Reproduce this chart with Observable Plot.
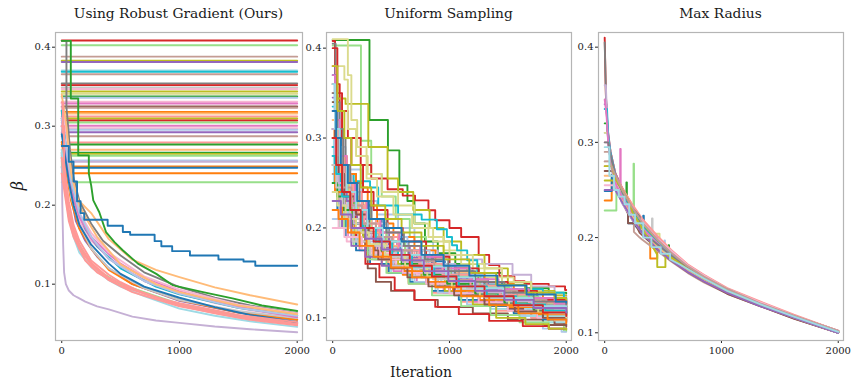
<!DOCTYPE html>
<html><head><meta charset="utf-8">
<script src="https://cdn.jsdelivr.net/npm/d3@7"></script>
<script src="https://cdn.jsdelivr.net/npm/@observablehq/plot@0.6"></script>
<style>
body{margin:0;background:#fff;}
#wrap{position:relative;width:852px;height:383px;font-family:"DejaVu Serif",serif;color:#1a1a1a;overflow:hidden;}
.panel{position:absolute;top:0;}
.panel text{font-family:"DejaVu Serif",serif !important;font-size:10px !important;fill:#222;}
.title{position:absolute;top:5px;font-size:13.8px;white-space:nowrap;transform:translateX(-50%);}
.xlab{position:absolute;top:364px;font-size:14px;transform:translateX(-50%);}
.ylab{position:absolute;left:13px;top:176px;font-size:16px;font-style:italic;transform:rotate(-90deg);}
</style></head><body><div id="wrap"></div>
<script>
// ---------- shared ----------
const tab20 = ["#1f77b4","#aec7e8","#ff7f0e","#ffbb78","#2ca02c","#98df8a","#d62728","#ff9896","#9467bd","#c5b0d5",
               "#8c564b","#c49c94","#e377c2","#f7b6d2","#7f7f7f","#c7c7c7","#bcbd22","#dbdb8d","#17becf","#9edae5"];
const panelTitles = ["Using Robust Gradient (Ours)", "Uniform Sampling", "Max Radius"];
const xLabel = "Iteration";
const yLabel = "β";
const iterTicks = [0, 1000, 2000];
const betaTicks = [0.1, 0.2, 0.3, 0.4];
const iterDomain = [-53, 2045];

// ---------- panel 1: robust gradient ----------
const robustFlatLevels = [0.4085,0.4025,0.388,0.3828,0.3812,0.3705,0.369,0.3658,0.354,0.352,0.349,0.347,0.344,0.341,0.3376,0.336,
  0.331,0.3287,0.325,0.3233,0.318,0.316,0.3123,0.3097,0.3072,0.3047,0.3005,0.2975,0.2954,0.2924,0.2873,0.2794,0.2768,0.2701,
  0.2663,0.265,0.2625,0.2566,0.255,0.249,0.2473,0.2405,0.2291];
const robustFlatColors = [6,5,11,16,8,19,18,11,14,6,15,13,16,17,4,1,13,12,10,11,2,3,7,16,6,5,12,13,1,8,11,7,4,3,4,16,5,1,9,2,0,2,5];

const robustCurveColors = [9,3,14,4,12,13,8,18,5,2,15,13,12,1,3,19,7,7,0,7,7];
const robustCurvePoints = [
  [0,.265, 5,.2, 12,.15, 20,.115, 35,.1, 60,.092, 100,.086, 130,.0835, 200,.078, 300,.072, 400,.068, 600,.059, 800,.054, 1000,.051, 1300,.0465, 1600,.043, 2000,.0392],
  [0,.31, 30,.28, 60,.25, 100,.22, 150,.205, 250,.19, 400,.157, 600,.131, 800,.118, 1000,.109, 1300,.096, 1600,.086, 2000,.0743],
  [0,.408, 40,.408, 40,.324, 50,.307, 70,.27, 100,.235, 150,.205, 250,.1765, 350,.155, 500,.1363, 700,.115, 1000,.0962, 1300,.083, 1600,.073, 2000,.0633],
  [0,.408, 77,.408, 77,.335, 140,.335, 140,.263, 230,.263, 230,.24, 250,.225, 268,.206, 319,.191, 376,.166, 450,.153, 518,.143, 647,.126, 803,.113, 946,.0984, 1200,.09, 1450,.082, 1700,.073, 2000,.066],
  [0,.32, 30,.28, 60,.24, 100,.21, 150,.185, 250,.16, 400,.138, 500,.126, 700,.108, 1000,.091, 1300,.078, 1600,.069, 2000,.0605],
  [0,.3, 30,.27, 60,.235, 100,.205, 150,.18, 250,.155, 400,.134, 600,.113, 1000,.088, 1300,.076, 1600,.067, 2000,.0582],
  [0,.3, 40,.25, 80,.21, 120,.18, 200,.155, 300,.135, 400,.12, 600,.1, 1000,.079, 1500,.064, 2000,.055],
  [0,.32, 40,.27, 80,.225, 120,.2, 200,.17, 300,.148, 500,.12, 800,.097, 1000,.087, 1500,.07, 2000,.06],
  [0,.26, 30,.22, 60,.19, 100,.165, 200,.135, 300,.118, 500,.1, 800,.085, 1000,.075, 1500,.06, 2000,.05],
  [0,.28, 40,.24, 80,.205, 150,.17, 250,.145, 400,.118, 600,.1, 1000,.08, 1500,.064, 2000,.055],
  [0,.3, 40,.25, 80,.21, 150,.175, 250,.145, 400,.12, 700,.095, 1000,.08, 1500,.066, 2000,.057],
  [0,.33, 40,.29, 80,.24, 150,.19, 250,.165, 400,.14, 700,.11, 1000,.093, 1500,.074, 2000,.063],
  [0,.31, 40,.26, 80,.22, 150,.185, 250,.158, 400,.132, 700,.104, 1000,.088, 1500,.071, 2000,.058],
  [0,.31, 40,.27, 80,.23, 150,.19, 250,.16, 400,.132, 700,.104, 1000,.088, 1500,.07, 2000,.06],
  [0,.34, 40,.3, 80,.24, 150,.2, 200,.185, 300,.16, 500,.125, 800,.1, 1000,.09, 1500,.073, 2000,.062],
  [0,.27, 30,.22, 60,.185, 100,.16, 150,.14, 250,.1215, 400,.105, 500,.097, 700,.085, 1000,.069, 1300,.06, 1600,.053, 2000,.046],
  [0,.33, 10,.33, 10,.28, 30,.24, 60,.205, 100,.175, 150,.155, 250,.13, 400,.112, 500,.1025, 700,.088, 1000,.073, 1300,.063, 1600,.055, 2000,.048],
  [0,.26, 30,.225, 60,.195, 100,.17, 150,.15, 250,.127, 400,.108, 600,.094, 1000,.074, 1500,.059, 2000,.05],
  [0,.29, 30,.26, 60,.23, 100,.2, 150,.175, 250,.15, 400,.126, 500,.113, 700,.097, 1000,.0828, 1300,.071, 1600,.061, 2000,.052],
  [0,.24, 30,.21, 60,.18, 100,.16, 200,.13, 300,.115, 500,.098, 800,.083, 1000,.076, 1500,.061, 2000,.052],
  [0,.3, 20,.3, 20,.25, 30,.215, 60,.185, 100,.165, 150,.145, 250,.125, 400,.105, 600,.09, 1000,.072, 1500,.058, 2000,.049]
];
const robustStepColors = [0];
const robustStepPoints = [
  [0,.275, 60,.255, 100,.23, 130,.205, 160,.19, 191,.1815, 390,.174, 519,.166, 581,.1625, 789,.1545, 846,.148, 938,.1418, 1089,.1363, 1331,.1313, 1544,.1287, 1644,.1233, 2000,.1233]
];

// ---------- panel 2: uniform sampling (step series) ----------
const uniformColors = [0,1,2,3,4,5,6,7,8,9,10,11,12,13,14,15,16,17,18,19,0,1,2,3,4,5,6,7,8,9,10,11,12,13,14,15,16,17,18,19,0,6,2,8,13,
  1,3,4,5,7,9,10,11,12,14,15,16,17,18,19,0,2,6,8];
const uniformPoints = [
  [0,.28, 20,.25, 60,.22, 150,.205, 260,.19, 380,.175, 520,.16, 700,.148, 900,.137, 1150,.125, 1400,.117, 1700,.108, 2000,.104],
  [0,.33, 30,.29, 110,.265, 250,.23, 380,.215, 560,.2, 700,.185, 860,.17, 1000,.155, 1200,.14, 1450,.128, 1700,.118, 1950,.11, 2000,.11],
  [0,.31, 15,.27, 50,.24, 120,.21, 190,.185, 290,.17, 420,.16, 600,.148, 800,.138, 1000,.128, 1300,.118, 1600,.11, 2000,.104],
  [0,.26, 40,.23, 100,.2, 200,.185, 320,.17, 480,.155, 650,.14, 850,.128, 1100,.118, 1400,.108, 1700,.1, 2000,.097],
  [0,.409, 315,.32, 473,.2863, 571,.2474, 640,.23, 700,.205, 790,.185, 900,.172, 1050,.16, 1250,.15, 1450,.14, 1650,.133, 1850,.128, 2000,.127],
  [0,.403, 242,.297, 330,.26, 420,.235, 540,.21, 660,.19, 800,.17, 950,.155, 1150,.14, 1350,.125, 1600,.11, 1800,.095, 1980,.085, 2000,.085],
  [0,.408, 20,.36, 60,.33, 130,.3, 240,.27, 330,.255, 470,.243, 600,.236, 705,.2307, 820,.2197, 878,.2086, 1000,.2, 1100,.19, 1250,.17, 1340,.1586, 1427,.1463, 1556,.1408, 1643,.1378, 1850,.135, 1990,.131, 2000,.131],
  [0,.3, 25,.26, 70,.23, 140,.2, 230,.18, 340,.165, 470,.15, 650,.138, 850,.128, 1100,.118, 1400,.108, 1700,.1, 2000,.095],
  [0,.38, 20,.33, 50,.3, 90,.26, 160,.21, 260,.19, 380,.178, 520,.165, 700,.155, 900,.145, 1100,.137, 1350,.127, 1600,.12, 1850,.113, 2000,.112],
  [0,.29, 30,.25, 90,.22, 200,.2, 330,.19, 500,.18, 700,.175, 900,.17, 1100,.165, 1280,.16, 1540,.148, 1700,.135, 1900,.125, 2000,.123],
  [0,.31, 20,.27, 60,.24, 130,.2, 220,.18, 300,.155, 370,.14, 500,.13, 700,.12, 900,.112, 1200,.105, 1500,.098, 1800,.092, 2000,.09],
  [0,.36, 30,.3, 80,.26, 160,.23, 260,.21, 400,.19, 560,.175, 720,.16, 900,.148, 1100,.135, 1350,.125, 1600,.115, 1850,.108, 2000,.105],
  [0,.27, 20,.24, 60,.215, 130,.19, 230,.175, 360,.165, 520,.152, 720,.14, 950,.128, 1200,.118, 1500,.11, 1800,.103, 2000,.1],
  [0,.23, 50,.2, 120,.185, 250,.175, 400,.165, 600,.155, 800,.145, 1050,.135, 1300,.125, 1550,.115, 1800,.107, 2000,.104],
  [0,.405, 25,.34, 60,.3, 110,.26, 200,.225, 330,.2, 480,.185, 650,.17, 850,.155, 1050,.142, 1300,.13, 1550,.12, 1800,.112, 2000,.11],
  [0,.32, 30,.28, 80,.24, 170,.21, 290,.19, 430,.175, 600,.16, 780,.15, 1000,.14, 1250,.13, 1500,.12, 1750,.113, 2000,.108],
  [0,.36, 40,.344, 110,.338, 305,.29, 470,.255, 560,.24, 690,.22, 830,.2, 950,.185, 1100,.17, 1300,.155, 1500,.14, 1700,.13, 1900,.125, 2000,.125],
  [0,.38, 100,.365, 130,.31, 200,.28, 300,.26, 420,.24, 560,.225, 700,.205, 820,.19, 950,.175, 1100,.16, 1300,.145, 1550,.13, 1800,.118, 2000,.115],
  [0,.335, 30,.3, 60,.26, 180,.252, 320,.245, 390,.225, 560,.215, 762,.2093, 892,.1985, 978,.19, 1022,.1808, 1065,.175, 1152,.1641, 1238,.1456, 1296,.138, 1500,.132, 1800,.128, 1980,.122, 2000,.122],
  [0,.3, 10,.25, 50,.22, 120,.2, 220,.18, 350,.165, 500,.15, 680,.14, 880,.13, 1100,.12, 1350,.11, 1600,.102, 1850,.095, 2000,.093],
  [0,.25, 40,.22, 110,.19, 200,.175, 320,.16, 480,.15, 660,.14, 850,.13, 1080,.12, 1300,.113, 1550,.105, 1800,.098, 2000,.096],
  [0,.21, 80,.2, 200,.185, 350,.17, 520,.155, 700,.14, 900,.128, 1150,.115, 1400,.103, 1650,.095, 1800,.088, 1960,.0844, 2000,.0844],
  [0,.35, 20,.31, 60,.28, 120,.26, 200,.25, 260,.245, 300,.225, 380,.205, 520,.19, 700,.175, 880,.16, 1050,.15, 1300,.138, 1550,.128, 1800,.118, 2000,.115],
  [0,.32, 40,.28, 100,.25, 180,.23, 280,.21, 400,.195, 560,.18, 750,.165, 950,.15, 1200,.138, 1450,.125, 1700,.116, 2000,.11],
  [0,.29, 30,.26, 90,.235, 180,.21, 300,.19, 450,.175, 620,.16, 820,.148, 1050,.137, 1300,.127, 1550,.118, 1800,.112, 2000,.11],
  [0,.27, 40,.23, 100,.2, 180,.18, 300,.165, 460,.15, 650,.138, 850,.125, 1100,.113, 1350,.103, 1600,.095, 1850,.088, 2000,.086],
  [0,.36, 20,.3, 70,.25, 120,.22, 200,.19, 280,.16, 400,.145, 531,.1308, 700,.12, 878,.1122, 1080,.1041, 1340,.0966, 1628,.0908, 1850,.088, 2000,.088],
  [0,.38, 30,.32, 80,.27, 150,.24, 250,.21, 370,.19, 520,.175, 700,.16, 900,.147, 1150,.133, 1400,.122, 1650,.112, 1900,.105, 2000,.105],
  [0,.29, 25,.25, 80,.2, 160,.18, 280,.168, 420,.158, 600,.15, 800,.14, 1050,.13, 1300,.12, 1600,.11, 1850,.104, 2000,.1],
  [0,.24, 60,.22, 150,.2, 280,.19, 440,.18, 620,.17, 820,.16, 1050,.148, 1250,.138, 1500,.128, 1750,.12, 2000,.116],
  [0,.3, 30,.26, 90,.22, 170,.2, 280,.18, 420,.165, 600,.152, 800,.14, 1000,.13, 1250,.12, 1500,.11, 1750,.1, 1900,.093, 2000,.092],
  [0,.26, 50,.23, 130,.21, 240,.195, 380,.18, 550,.166, 750,.153, 980,.14, 1200,.13, 1450,.12, 1700,.11, 2000,.105],
  [0,.33, 30,.29, 80,.25, 150,.22, 250,.2, 380,.185, 550,.17, 740,.156, 950,.145, 1200,.133, 1450,.122, 1700,.113, 2000,.108],
  [0,.28, 40,.24, 120,.21, 230,.19, 370,.172, 540,.16, 720,.148, 930,.136, 1150,.126, 1400,.116, 1650,.108, 1900,.1, 2000,.1],
  [0,.31, 30,.27, 100,.24, 200,.22, 330,.2, 480,.18, 650,.165, 850,.15, 1050,.14, 1300,.128, 1550,.118, 1800,.11, 2000,.106],
  [0,.22, 60,.2, 170,.185, 320,.17, 500,.158, 700,.146, 900,.135, 1150,.125, 1400,.115, 1650,.105, 1900,.097, 2000,.096],
  [0,.3, 30,.26, 80,.23, 160,.21, 260,.19, 400,.175, 560,.16, 760,.145, 960,.13, 1200,.115, 1400,.1, 1650,.093, 1850,.088, 2000,.087],
  [0,.41, 130,.37, 160,.32, 210,.29, 290,.255, 380,.235, 520,.215, 680,.2, 860,.185, 1000,.17, 1200,.155, 1450,.14, 1700,.128, 1900,.12, 2000,.118],
  [0,.29, 20,.26, 70,.24, 150,.22, 260,.2, 400,.185, 560,.17, 740,.158, 940,.148, 1150,.137, 1400,.126, 1650,.117, 1900,.112, 2000,.112],
  [0,.27, 50,.24, 130,.215, 240,.195, 380,.18, 540,.165, 720,.152, 930,.14, 1150,.13, 1400,.12, 1650,.11, 1850,.102, 2000,.1],
  [0,.37, 25,.31, 70,.27, 130,.25, 200,.23, 300,.21, 420,.19, 580,.175, 760,.163, 960,.152, 1200,.14, 1450,.13, 1700,.122, 2000,.118],
  [0,.4, 40,.35, 80,.3, 160,.27, 260,.24, 350,.22, 470,.2, 600,.185, 800,.168, 1000,.155, 1250,.14, 1500,.13, 1750,.12, 2000,.115],
  [0,.27, 20,.24, 80,.21, 160,.195, 290,.18, 430,.165, 610,.152, 810,.14, 1030,.13, 1260,.12, 1500,.112, 1760,.104, 2000,.1],
  [0,.345, 20,.3, 60,.26, 120,.23, 210,.21, 330,.195, 480,.18, 660,.167, 860,.155, 1080,.143, 1330,.132, 1580,.122, 1830,.114, 2000,.112],
  [0,.2, 100,.19, 250,.18, 400,.165, 600,.15, 800,.138, 1000,.127, 1250,.117, 1500,.108, 1750,.1, 2000,.095],
  [0,.36, 15,.33, 45,.29, 90,.26, 150,.24, 230,.22, 330,.205, 470,.19, 640,.175, 830,.16, 1030,.148, 1280,.135, 1530,.123, 1780,.113, 2000,.108],
  [0,.33, 35,.29, 70,.26, 140,.235, 220,.215, 330,.195, 460,.18, 620,.165, 800,.152, 1000,.142, 1250,.13, 1500,.12, 1750,.112, 2000,.107],
  [0,.25, 40,.235, 100,.22, 170,.205, 280,.19, 420,.175, 590,.16, 780,.148, 980,.138, 1220,.127, 1470,.117, 1720,.109, 2000,.103],
  [0,.34, 30,.3, 60,.27, 130,.24, 210,.22, 320,.2, 460,.185, 620,.17, 800,.158, 1010,.146, 1260,.134, 1510,.124, 1760,.116, 2000,.112],
  [0,.35, 25,.31, 55,.28, 100,.25, 170,.225, 270,.205, 400,.19, 560,.175, 740,.16, 940,.148, 1180,.136, 1430,.126, 1680,.117, 1900,.11, 2000,.108],
  [0,.31, 20,.28, 50,.25, 100,.225, 180,.205, 290,.19, 430,.175, 600,.162, 790,.15, 1000,.14, 1240,.128, 1490,.118, 1740,.11, 2000,.104],
  [0,.34, 20,.3, 50,.26, 100,.235, 200,.215, 310,.195, 360,.175, 390,.165, 500,.155, 640,.145, 820,.135, 1040,.125, 1300,.115, 1560,.107, 1800,.1, 2000,.098],
  [0,.3, 40,.27, 90,.245, 160,.225, 250,.205, 370,.19, 510,.175, 680,.163, 870,.152, 1080,.142, 1320,.13, 1580,.12, 1830,.112, 2000,.108],
  [0,.37, 20,.32, 60,.28, 120,.25, 190,.23, 290,.21, 410,.195, 570,.18, 750,.168, 950,.155, 1180,.143, 1420,.132, 1680,.122, 1900,.116, 2000,.114],
  [0,.35, 40,.31, 90,.27, 150,.25, 230,.23, 330,.21, 460,.195, 610,.18, 790,.165, 990,.152, 1220,.14, 1470,.128, 1720,.118, 2000,.112],
  [0,.27, 30,.245, 80,.225, 150,.21, 240,.195, 360,.18, 500,.168, 670,.155, 860,.143, 1070,.132, 1310,.122, 1560,.113, 1810,.105, 2000,.102],
  [0,.38, 40,.33, 100,.3, 160,.27, 240,.245, 330,.225, 450,.21, 590,.195, 760,.18, 950,.165, 1170,.15, 1400,.137, 1650,.128, 1900,.122, 2000,.12],
  [0,.24, 40,.225, 110,.21, 200,.195, 310,.182, 450,.17, 620,.158, 810,.146, 1020,.135, 1260,.124, 1510,.114, 1760,.106, 2000,.1],
  [0,.28, 30,.26, 80,.235, 150,.22, 250,.2, 370,.185, 510,.17, 680,.157, 870,.146, 1080,.135, 1320,.124, 1570,.115, 1820,.108, 2000,.104],
  [0,.36, 20,.31, 60,.27, 120,.24, 200,.22, 300,.2, 430,.185, 590,.17, 770,.157, 970,.145, 1210,.133, 1460,.122, 1710,.113, 2000,.107],
  [0,.33, 30,.3, 70,.27, 130,.25, 210,.23, 310,.21, 440,.2, 590,.185, 760,.17, 950,.158, 1170,.147, 1410,.136, 1660,.126, 1910,.118, 2000,.117],
  [0,.22, 50,.21, 130,.195, 230,.18, 350,.168, 500,.156, 680,.145, 880,.134, 1100,.124, 1340,.114, 1590,.105, 1840,.098, 2000,.094],
  [0,.3, 30,.27, 80,.24, 150,.22, 240,.2, 350,.185, 490,.17, 660,.158, 850,.146, 1060,.135, 1300,.124, 1550,.114, 1800,.106, 2000,.102],
  [0,.23, 70,.215, 160,.2, 280,.188, 420,.176, 590,.164, 780,.152, 990,.141, 1220,.13, 1470,.12, 1720,.111, 2000,.106]
];

// ---------- panel 3: max radius ----------
const radiusColors = [6,14,2,5,12,15,1,0,4,16,17,11,10,8,9,18,7,3,13,12,14,16,8,11,19];
const radiusPoints = [
  [0,.41, 10,.35, 25,.312, 50,.29, 90,.268, 150,.252, 230,.235, 320,.218, 450,.2, 570,.186, 710,.171, 850,.16, 1050,.146, 1330,.132, 1620,.118, 2000,.102],
  [0,.405, 12,.345, 30,.3, 60,.272, 100,.252, 160,.235, 240,.218, 330,.203, 460,.187, 580,.175, 720,.163, 860,.153, 1060,.141, 1340,.128, 1630,.115, 2000,.1],
  [0,.239, 60,.239, 60,.262, 100,.252, 150,.24, 230,.222, 320,.206, 390,.198, 390,.178, 450,.178, 450,.19, 570,.179, 710,.165, 850,.155, 1050,.142, 1330,.129, 1620,.116, 2000,.1],
  [0,.2285, 100,.2285, 100,.252, 150,.243, 247,.224, 247,.2775, 251,.2775, 251,.22, 320,.208, 450,.191, 570,.179, 710,.166, 850,.156, 1050,.143, 1330,.13, 1620,.117, 2000,.101],
  [0,.3, 25,.3, 50,.285, 90,.264, 133,.252, 133,.293, 137,.293, 137,.25, 230,.232, 320,.216, 450,.198, 570,.184, 710,.17, 850,.159, 1050,.146, 1330,.132, 1620,.118, 2000,.102],
  [0,.28, 50,.28, 90,.262, 150,.246, 230,.23, 320,.213, 405,.202, 405,.22, 410,.22, 410,.198, 570,.182, 710,.168, 850,.158, 1050,.145, 1330,.131, 1620,.117, 2000,.101],
  [0,.31, 25,.31, 50,.286, 90,.258, 150,.238, 230,.222, 320,.206, 450,.19, 512,.183, 512,.197, 516,.197, 516,.182, 570,.178, 710,.165, 850,.155, 1050,.143, 1330,.129, 1620,.116, 2000,.1],
  [0,.249, 60,.249, 60,.266, 100,.255, 150,.24, 200,.232, 200,.215, 240,.215, 330,.204, 330,.223, 335,.223, 335,.203, 450,.19, 570,.177, 710,.165, 850,.155, 1050,.142, 1330,.129, 1620,.116, 2000,.1],
  [0,.32, 20,.32, 30,.305, 50,.285, 90,.262, 150,.25, 186,.242, 186,.258, 190,.258, 190,.24, 230,.23, 320,.214, 450,.196, 547,.183, 547,.192, 551,.192, 551,.182, 710,.168, 850,.157, 1050,.144, 1330,.13, 1620,.117, 2000,.101],
  [0,.26, 90,.26, 150,.248, 230,.232, 320,.215, 450,.197, 570,.183, 710,.169, 850,.158, 1050,.145, 1330,.131, 1620,.118, 2000,.102],
  [0,.31, 30,.31, 50,.29, 90,.268, 150,.25, 230,.234, 320,.218, 420,.204, 470,.204, 470,.186, 570,.18, 710,.168, 850,.157, 1050,.144, 1330,.13, 1620,.117, 2000,.101],
  [0,.29, 40,.29, 50,.282, 90,.256, 150,.236, 200,.226, 250,.218, 250,.206, 300,.2, 320,.198, 450,.186, 570,.175, 710,.163, 850,.153, 1050,.141, 1330,.128, 1620,.115, 2000,.1],
  [0,.27, 70,.27, 90,.26, 150,.238, 200,.225, 200,.215, 260,.215, 300,.205, 380,.196, 450,.188, 570,.176, 710,.164, 850,.154, 1050,.141, 1330,.128, 1620,.115, 2000,.1],
  [0,.34, 15,.34, 25,.315, 50,.29, 90,.268, 150,.25, 230,.233, 320,.217, 450,.199, 570,.185, 710,.171, 850,.16, 1050,.146, 1330,.132, 1620,.118, 2000,.102],
  [0,.36, 10,.36, 25,.31, 50,.28, 90,.255, 150,.236, 230,.22, 320,.205, 450,.189, 570,.177, 710,.165, 850,.155, 1050,.143, 1330,.129, 1620,.116, 2000,.1],
  [0,.335, 20,.335, 30,.305, 50,.288, 90,.265, 150,.247, 230,.229, 320,.212, 450,.195, 570,.182, 710,.168, 850,.158, 1050,.145, 1330,.131, 1620,.117, 2000,.101],
  [0,.275, 60,.275, 90,.265, 150,.252, 230,.236, 320,.22, 450,.202, 570,.187, 710,.172, 850,.161, 1050,.147, 1330,.133, 1620,.119, 2000,.102],
  [0,.265, 80,.265, 100,.256, 150,.24, 230,.223, 320,.207, 450,.19, 570,.178, 710,.166, 850,.156, 1050,.143, 1330,.13, 1620,.117, 2000,.101],
  [0,.255, 100,.255, 150,.248, 230,.233, 320,.217, 450,.199, 570,.186, 710,.171, 850,.16, 1050,.146, 1330,.132, 1620,.118, 2000,.102],
  [0,.345, 15,.33, 30,.3, 60,.275, 100,.255, 160,.24, 240,.225, 330,.209, 460,.193, 580,.18, 720,.167, 860,.157, 1060,.144, 1340,.13, 1630,.117, 2000,.101],
  [0,.3, 30,.3, 50,.287, 90,.265, 150,.248, 230,.232, 300,.222, 300,.208, 380,.2, 450,.193, 570,.181, 710,.168, 850,.157, 1050,.144, 1330,.13, 1620,.117, 2000,.101],
  [0,.275, 60,.275, 90,.262, 150,.25, 200,.24, 240,.226, 320,.21, 450,.182, 450,.169, 520,.169, 520,.182, 570,.179, 710,.167, 850,.157, 1050,.144, 1330,.13, 1620,.117, 2000,.101],
  [0,.25, 90,.25, 150,.237, 230,.221, 320,.205, 450,.188, 570,.176, 710,.164, 850,.154, 1050,.142, 1330,.128, 1620,.116, 2000,.1],
  [0,.28, 40,.28, 90,.266, 150,.25, 230,.233, 320,.216, 450,.198, 570,.184, 710,.17, 850,.159, 1050,.146, 1330,.131, 1620,.118, 2000,.102],
  [0,.295, 40,.295, 40,.265, 80,.265, 80,.25, 120,.25, 120,.243, 170,.243, 170,.235, 210,.235, 210,.224, 260,.224, 260,.215, 330,.215, 330,.2, 400,.2, 400,.19, 480,.19, 480,.183, 560,.183, 560,.177, 640,.172, 710,.167, 850,.157, 1050,.144, 1330,.13, 1620,.117, 2000,.101]
];

// ---------- helpers ----------
function rows(pointsList, colors, offset = 0) {
  const out = [];
  pointsList.forEach((p, i) => {
    for (let k = 0; k < p.length; k += 2) out.push({s: offset + i, c: colors[i], x: p[k], y: p[k + 1]});
  });
  return out;
}
function flatRows(levels, colors) {
  const out = [];
  levels.forEach((v, i) => { out.push({s: i, c: colors[i], x: 0, y: v}); out.push({s: i, c: colors[i], x: 2000, y: v}); });
  return out;
}

function makePanel(opts) {
  return Plot.plot({
    width: opts.width, height: 383,
    marginLeft: opts.ml, marginRight: opts.mr, marginTop: 32, marginBottom: 43,
    style: {fontFamily: "'DejaVu Serif', serif", fontSize: "10px", color: "#222", background: "transparent"},
    x: {domain: iterDomain, ticks: iterTicks, tickFormat: d3.format("d"), tickSize: 3, tickPadding: 3, label: null},
    y: {domain: opts.yDomain, ticks: betaTicks, tickFormat: d3.format(".1f"), tickSize: 3, tickPadding: 2, label: null},
    color: {type: "ordinal", domain: d3.range(20), range: tab20},
    marks: [...opts.marks, Plot.frame({stroke: "#b5b5b5", strokeWidth: 1.2})]
  });
}

const wrap = document.getElementById("wrap");

const p1 = makePanel({
  width: 310, ml: 55, mr: 8, yDomain: [0.0287, 0.4186],
  marks: [
    Plot.line(flatRows(robustFlatLevels, robustFlatColors), {x: "x", y: "y", z: "s", stroke: "c", strokeWidth: 1.9, clip: true}),
    Plot.line(rows(robustCurvePoints, robustCurveColors), {x: "x", y: "y", z: "s", stroke: "c", strokeWidth: 1.9, clip: true}),
    Plot.line(rows(robustStepPoints, robustStepColors, 100), {x: "x", y: "y", z: "s", stroke: "c", strokeWidth: 1.9, curve: "step-after", clip: true})
  ]
});
const p2 = makePanel({
  width: 280, ml: 26, mr: 9, yDomain: [0.0748, 0.4174],
  marks: [
    Plot.line(rows(uniformPoints, uniformColors), {x: "x", y: "y", z: "s", stroke: "c", strokeWidth: 1.9, curve: "step-after", clip: true})
  ]
});
const p3 = makePanel({
  width: 282, ml: 28, mr: 9, yDomain: [0.0919, 0.4154],
  marks: [
    Plot.line(rows(radiusPoints, radiusColors), {x: "x", y: "y", z: "s", stroke: "c", strokeWidth: 1.9, clip: true})
  ]
});

[[p1, 0], [p2, 300], [p3, 570]].forEach(([svg, left]) => {
  svg.classList.add("panel");
  svg.style.left = left + "px";
  wrap.appendChild(svg);
});

const titleCenters = [178.5, 448.5, 720.5];
panelTitles.forEach((t, i) => {
  const d = document.createElement("div");
  d.className = "title"; d.textContent = t; d.style.left = titleCenters[i] + "px";
  wrap.appendChild(d);
});
const xl = document.createElement("div"); xl.className = "xlab"; xl.textContent = xLabel; xl.style.left = "421px"; wrap.appendChild(xl);
const yl = document.createElement("div"); yl.className = "ylab"; yl.textContent = yLabel; wrap.appendChild(yl);
</script></body></html>
